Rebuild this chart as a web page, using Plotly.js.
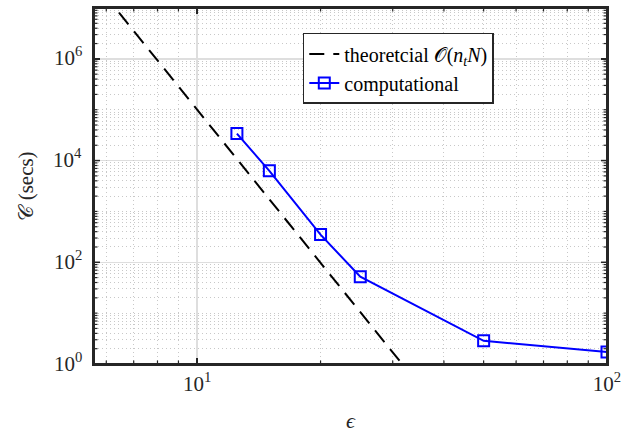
<!DOCTYPE html>
<html>
<head>
<meta charset="utf-8">
<script src="https://cdn.plot.ly/plotly-3.0.1.min.js"></script>
<style>html,body{margin:0;padding:0;background:#fff;}#chart{width:623px;height:433px;}</style>
</head>
<body>
<div id="chart"></div>
<script>
// computational cost
const epsComp = [12.5, 15, 20, 25, 50, 100];
const costComp = [34000, 6300, 350, 52, 2.85, 1.72];
// theoretical O(n_t N) reference line (endpoints, clipped by axes)
const epsTheory = [5, 40];
const costTheory = [1.024e8, 0.0954];
// tick labels
const xTickVals = [10, 100];
const xTickText = ['10<sup>1</sup>', '10<sup>2</sup>'];
const yTickVals = [1, 100, 1e4, 1e6];
const yTickText = ['10<sup>0</sup>', '10<sup>2</sup>', '10<sup>4</sup>', '10<sup>6</sup>'];

const xMinor = [];
[1, 10].forEach(d => { for (let k = 1; k <= 9; k++) { const v = k * d; if (v >= 5.6 && v < 100 && v !== 10) xMinor.push(v); } });
const yMinor = [];
for (let e = 0; e <= 7; e++) { for (let k = 1; k <= 9; k++) { const v = k * Math.pow(10, e); if (v < 1e7 && yTickVals.indexOf(v) < 0) yMinor.push(v); } }

const serif = "Liberation Serif";
const xRange = [Math.log10(5.6), 2];
const yRange = [0, 7];

const traces = [
  {
    x: epsTheory, y: costTheory, mode: 'lines', type: 'scatter',
    name: 'theoretcial 𝒪(<i>n</i><sub><i>t</i></sub><i>N</i>)',
    line: {color: '#000000', width: 2, dash: '15px,9px'}
  },
  {
    x: epsComp, y: costComp, mode: 'lines+markers', type: 'scatter',
    name: 'computational',
    line: {color: '#0000ff', width: 2},
    marker: {symbol: 'square-open', size: 11, color: '#0000ff', line: {width: 2, color: '#0000ff'}}
  },
  {x: [], y: [], xaxis: 'x2', yaxis: 'y2', type: 'scatter', mode: 'lines', showlegend: false, hoverinfo: 'skip'}
];

// tick marks on all four sides, drawn as shapes anchored to the axes
const tickColor = '#262626';
const shapes = [];
function xTick(v, len, w) {
  shapes.push({type: 'line', xref: 'x', yref: 'paper', ysizemode: 'pixel', yanchor: 0, x0: v, x1: v, y0: 0, y1: len, line: {color: tickColor, width: w}, layer: 'above'});
  shapes.push({type: 'line', xref: 'x', yref: 'paper', ysizemode: 'pixel', yanchor: 1, x0: v, x1: v, y0: 0, y1: -len, line: {color: tickColor, width: w}, layer: 'above'});
}
function yTick(v, len, w) {
  shapes.push({type: 'line', xref: 'paper', yref: 'y', xsizemode: 'pixel', xanchor: 0, x0: 0, x1: len, y0: v, y1: v, line: {color: tickColor, width: w}, layer: 'above'});
  shapes.push({type: 'line', xref: 'paper', yref: 'y', xsizemode: 'pixel', xanchor: 1, x0: 0, x1: -len, y0: v, y1: v, line: {color: tickColor, width: w}, layer: 'above'});
}
xTickVals.forEach(v => xTick(v, 6, 1.5));
xMinor.forEach(v => xTick(v, 3.5, 1.2));
yTickVals.forEach(v => yTick(v, 6, 1.5));
yMinor.forEach(v => yTick(v, 3.5, 1.2));
shapes.push({type: 'rect', xref: 'paper', yref: 'paper', x0: 0, x1: 1, y0: 0, y1: 1,
             line: {color: tickColor, width: 2}, fillcolor: 'rgba(0,0,0,0)', layer: 'above'});

// visible y tick labels placed next to the axis (log axis annotations take log10 positions)
const annotations = yTickVals.map((v, i) => ({
  xref: 'paper', yref: 'y', x: 0, y: Math.log10(v), xanchor: 'right', yanchor: 'middle', xshift: -10, yshift: 2,
  text: yTickText[i], showarrow: false, font: {family: serif, size: 21, color: '#262626'}
}));

const axisCommon = {
  type: 'log',
  showline: true, linecolor: '#262626', linewidth: 2,
  mirror: 'ticks', ticks: 'inside', ticklen: 6, tickwidth: 1.5, tickcolor: '#262626',
  showgrid: true, gridcolor: '#dedede', gridwidth: 1.5,
  zeroline: false,
  tickfont: {family: serif, size: 21, color: '#262626'}
};
const minorAxis = {
  type: 'log',
  showline: false, ticks: '',
  showticklabels: false,
  showgrid: true, gridcolor: '#c8c8c8', gridwidth: 1, griddash: '1px,3px',
  zeroline: false
};

const layout = {
  width: 623, height: 433,
  margin: {l: 94, r: 16, t: 8, b: 69},
  paper_bgcolor: '#ffffff', plot_bgcolor: 'rgba(0,0,0,0)',
  showlegend: true,
  font: {family: serif, color: '#262626'},
  xaxis2: Object.assign({}, minorAxis, {range: xRange, tickvals: xMinor, ticktext: xMinor.map(() => ''), overlaying: 'x', anchor: 'y2', side: 'bottom'}),
  yaxis2: Object.assign({}, minorAxis, {range: yRange, tickvals: yMinor, ticktext: yMinor.map(() => ''), overlaying: 'y', anchor: 'x2', side: 'left'}),
  xaxis: Object.assign({}, axisCommon, {
    range: xRange,
    tickvals: xTickVals, ticktext: xTickText,
    title: {text: '<i>ϵ</i>', font: {family: serif, size: 22, color: '#262626'}, standoff: 18}
  }),
  yaxis: Object.assign({}, axisCommon, {
    range: yRange,
    tickvals: yTickVals, ticktext: yTickText,
    tickfont: {family: serif, size: 21, color: 'rgba(0,0,0,0)'},
    title: {text: '𝒞 (secs)', font: {family: serif, size: 21, color: '#262626'}, standoff: 20}
  }),
  legend: {
    x: 0.407, y: 0.93, xanchor: 'left', yanchor: 'top',
    bgcolor: '#ffffff', bordercolor: '#262626', borderwidth: 1.5,
    font: {family: serif, size: 20, color: '#000000'},
    tracegroupgap: 0
  },
  annotations: annotations,
  shapes: shapes
};

Plotly.newPlot('chart', traces, layout, {displayModeBar: false, staticPlot: true});
</script>
</body>
</html>
